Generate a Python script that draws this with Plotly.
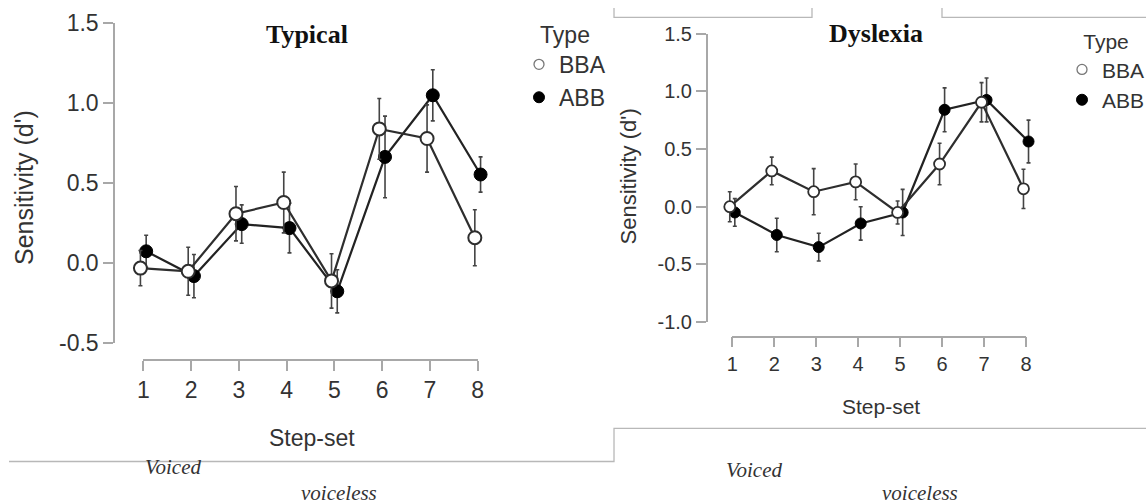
import plotly.graph_objects as go

# ---------------- data ----------------
steps = [1, 2, 3, 4, 5, 6, 7, 8]
step_labels = ["1", "2", "3", "4", "5", "6", "7", "8"]

typ_bba = [-0.03, -0.05, 0.31, 0.38, -0.11, 0.84, 0.78, 0.16]
typ_bba_err = [0.11, 0.15, 0.17, 0.19, 0.17, 0.19, 0.21, 0.175]
typ_abb = [0.075, -0.08, 0.245, 0.22, -0.175, 0.665, 1.05, 0.555]
typ_abb_err = [0.10, 0.135, 0.12, 0.155, 0.135, 0.255, 0.16, 0.11]

dys_bba = [0.0, 0.31, 0.13, 0.215, -0.05, 0.37, 0.905, 0.155]
dys_bba_err = [0.13, 0.12, 0.20, 0.155, 0.10, 0.18, 0.17, 0.17]
dys_abb = [-0.05, -0.245, -0.35, -0.145, -0.05, 0.84, 0.925, 0.565]
dys_abb_err = [0.12, 0.145, 0.12, 0.145, 0.20, 0.19, 0.19, 0.185]

typ_yticks = [-0.5, 0.0, 0.5, 1.0, 1.5]
typ_yticktext = ["-0.5", "0.0", "0.5", "1.0", "1.5"]
dys_yticks = [-1.0, -0.5, 0.0, 0.5, 1.0, 1.5]
dys_yticktext = ["-1.0", "-0.5", "0.0", "0.5", "1.0", "1.5"]

series_names = ["BBA", "ABB"]

# ---------------- layout geometry (pixels) ----------------
W, H = 1146, 504
DODGE = 0.06
SANS = "Liberation Sans"
SERIF = "Liberation Serif"
AXIS_GREY = "#a8a8a8"
TXT = "#333333"


def fx(px):
    return px / W


def fy(py):
    return 1 - py / H


panels = {
    "L": dict(x1=143.3, x8=477.7, y0=263.3, unit=160.0, xline=360.0, yline=114.0,
              ymin=-0.5, ymax=1.5, dom_x=(95, 505), dom_y=(10, 385),
              tickfont=23, msize=13, mline=2),
    "R": dict(x1=732.3, x8=1026.0, y0=206.7, unit=115.4, xline=336.7, yline=706.7,
              ymin=-1.0, ymax=1.5, dom_x=(690, 1050), dom_y=(20, 350),
              tickfont=20, msize=11, mline=1.8),
}

fig = go.Figure()


def add_panel(key, bba, bba_err, abb, abb_err, xa, ya, xa_ax, ya_ax, yticks, yticktext):
    p = panels[key]
    step = (p["x8"] - p["x1"]) / 7.0
    # data axes (invisible)
    xr = [1 + (p["dom_x"][0] - p["x1"]) / step, 1 + (p["dom_x"][1] - p["x1"]) / step]
    yr = [(p["y0"] - p["dom_y"][1]) / p["unit"], (p["y0"] - p["dom_y"][0]) / p["unit"]]
    hidden = dict(showline=False, showticklabels=False, ticks="", showgrid=False, zeroline=False)
    fig.layout["xaxis" + xa[1:]] = dict(domain=[fx(p["dom_x"][0]), fx(p["dom_x"][1])], range=xr,
                                        anchor=ya, **hidden)
    fig.layout["yaxis" + ya[1:]] = dict(domain=[fy(p["dom_y"][1]), fy(p["dom_y"][0])], range=yr,
                                        anchor=xa, **hidden)
    # R-style axes
    axstyle = dict(showline=True, linecolor=AXIS_GREY, linewidth=1.5, ticks="outside",
                   ticklen=10, tickwidth=1.5, tickcolor=AXIS_GREY, showgrid=False, zeroline=False,
                   automargin=False,
                   tickfont=dict(family=SANS, size=p["tickfont"], color=TXT))
    fig.layout["xaxis" + xa_ax[1:]] = dict(domain=[fx(p["x1"]), fx(p["x8"])], range=[1, 8],
                                           anchor="free", position=fy(p["xline"]),
                                           tickvals=steps, ticktext=step_labels, **axstyle)
    fig.layout["yaxis" + ya_ax[1:]] = dict(domain=[fy(p["y0"] - p["ymin"] * p["unit"]),
                                                   fy(p["y0"] - p["ymax"] * p["unit"])],
                                           range=[p["ymin"], p["ymax"]], anchor="free",
                                           position=fx(p["yline"]),
                                           tickvals=yticks, ticktext=yticktext, **axstyle)
    fig.add_trace(go.Scatter(x=[], y=[], xaxis=xa_ax, yaxis=ya_ax, showlegend=False,
                             hoverinfo="skip"))
    # ABB (filled) first, BBA (open) on top
    fig.add_trace(go.Scatter(
        x=[s + DODGE for s in steps], y=abb, mode="lines+markers", name="ABB",
        xaxis=xa, yaxis=ya, showlegend=False, cliponaxis=False,
        line=dict(color="#222222", width=2.2),
        marker=dict(size=p["msize"], color="black", line=dict(color="black", width=1)),
        error_y=dict(type="data", array=abb_err, color="#444444", thickness=1.6, width=2)))
    fig.add_trace(go.Scatter(
        x=[s - DODGE for s in steps], y=bba, mode="lines+markers", name="BBA",
        xaxis=xa, yaxis=ya, showlegend=False, cliponaxis=False,
        line=dict(color="#2e2e2e", width=2.2),
        marker=dict(size=p["msize"], color="white", line=dict(color="#2e2e2e", width=p["mline"])),
        error_y=dict(type="data", array=bba_err, color="#444444", thickness=1.6, width=2)))


add_panel("L", typ_bba, typ_bba_err, typ_abb, typ_abb_err, "x", "y", "x3", "y3",
          typ_yticks, typ_yticktext)
add_panel("R", dys_bba, dys_bba_err, dys_abb, dys_abb_err, "x2", "y2", "x4", "y4",
          dys_yticks, dys_yticktext)

# legend entries
for leg, xa, ya in [("legend", "x", "y"), ("legend2", "x2", "y2")]:
    fig.add_trace(go.Scatter(x=[None], y=[None], mode="markers", name=series_names[0],
                             xaxis=xa, yaxis=ya, legend=leg,
                             marker=dict(size=10, color="white", line=dict(color="#777777", width=1.3))))
    fig.add_trace(go.Scatter(x=[None], y=[None], mode="markers", name=series_names[1],
                             xaxis=xa, yaxis=ya, legend=leg,
                             marker=dict(size=11, color="black", line=dict(color="black", width=1))))


def legend_cfg(xp, yp, size):
    return dict(x=fx(xp), y=fy(yp), xanchor="left", yanchor="top", bgcolor="rgba(0,0,0,0)",
                font=dict(family=SANS, size=size, color=TXT),
                title=dict(text="Type", side="top center",
                           font=dict(family=SANS, size=size, color=TXT)))


fig.update_layout(
    legend=legend_cfg(519, 13, 23),
    legend2=legend_cfg(1062, 22, 21),
)

# text annotations
ann = []


def text(xp, yp, s, size, family=SANS, color=TXT, angle=0):
    ann.append(dict(x=fx(xp), y=fy(yp), xref="paper", yref="paper", text=s, showarrow=False,
                    xanchor="center", yanchor="middle", textangle=angle,
                    font=dict(family=family, size=size, color=color)))


text(306.7, 35, "<b>Typical</b>", 26, SERIF, "#111111")
text(876, 34, "<b>Dyslexia</b>", 26, SERIF, "#111111")
text(312, 438, "Step-set", 23)
text(880.5, 406, "Step-set", 21)
text(24, 188, "Sensitivity (d')", 25, angle=-90)
text(627.5, 177, "Sensitivity (d')", 22, angle=-90)
text(173, 467, "<i>Voiced</i>", 21, SERIF, "#333333")
text(339, 493, "<i>voiceless</i>", 21, SERIF, "#333333")
text(754, 469.5, "<i>Voiced</i>", 21, SERIF, "#333333")
text(920, 493, "<i>voiceless</i>", 21, SERIF, "#333333")


# page decoration lines (document frame fragments)
def path(points):
    d = "M " + " L ".join(f"{fx(a):.5f},{fy(b):.5f}" for a, b in points)
    return dict(type="path", xref="paper", yref="paper", path=d,
                line=dict(color="#b8b8b8", width=1.3))


shapes = [
    path([(614, 8), (614, 17.3), (812, 17.3), (812, 8)]),
    path([(942, 8), (942, 17.3), (1146, 17.3)]),
    path([(9, 461.5), (614, 461.5), (614, 428.3), (1146, 428.3)]),
]

fig.update_layout(
    width=W, height=H, margin=dict(l=0, r=0, t=0, b=0, autoexpand=False),
    paper_bgcolor="white", plot_bgcolor="rgba(0,0,0,0)",
    annotations=ann, shapes=shapes, showlegend=True,
)

fig.write_html("out.html", config={"displayModeBar": False},
               post_script="document.body.style.margin='0';document.body.style.overflow='hidden';")
